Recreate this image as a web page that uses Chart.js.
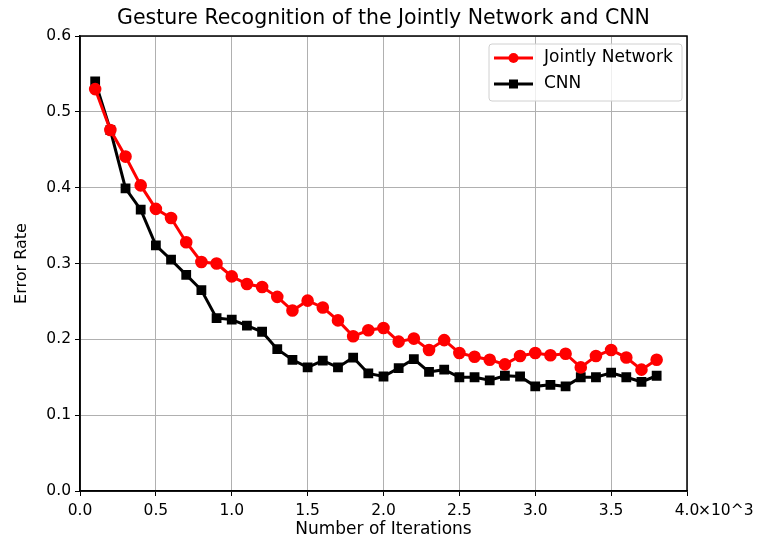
<!DOCTYPE html>
<html>
<head>
<meta charset="utf-8">
<script src="https://cdn.jsdelivr.net/npm/chart.js@4/dist/chart.umd.min.js"></script>
<style>
  html, body { margin: 0; padding: 0; background: #fff; }
  #wrap { width: 760px; height: 541px; }
</style>
</head>
<body>
<div id="wrap"><canvas id="errChart" width="760" height="541"></canvas></div>
<script>
// iterations in units of 10^3
const iterations = [0.1, 0.2, 0.3, 0.4, 0.5, 0.6, 0.7, 0.8, 0.9, 1.0,
  1.1, 1.2, 1.3, 1.4, 1.5, 1.6, 1.7, 1.8, 1.9, 2.0,
  2.1, 2.2, 2.3, 2.4, 2.5, 2.6, 2.7, 2.8, 2.9, 3.0,
  3.1, 3.2, 3.3, 3.4, 3.5, 3.6, 3.7, 3.8];

const jointlyErr = [0.530, 0.476, 0.441, 0.403, 0.372, 0.360, 0.328, 0.302, 0.300, 0.283,
  0.273, 0.269, 0.256, 0.238, 0.251, 0.242, 0.225, 0.204, 0.212, 0.215,
  0.197, 0.201, 0.186, 0.199, 0.182, 0.177, 0.173, 0.167, 0.178, 0.182,
  0.179, 0.181, 0.163, 0.178, 0.186, 0.176, 0.160, 0.173];

const cnnErr = [0.540, 0.476, 0.399, 0.371, 0.324, 0.305, 0.285, 0.265, 0.228, 0.226,
  0.218, 0.210, 0.187, 0.173, 0.163, 0.172, 0.163, 0.176, 0.155, 0.151,
  0.162, 0.174, 0.157, 0.160, 0.150, 0.150, 0.146, 0.152, 0.151, 0.138,
  0.140, 0.138, 0.150, 0.150, 0.156, 0.150, 0.144, 0.152];

const seriesNames = ['Jointly Network', 'CNN'];
const chartTitle = 'Gesture Recognition of the Jointly Network and CNN';

const FONT = "'DejaVu Sans', sans-serif";

// ------------------------- EXTRA DRAWING -------------------------
// matplotlib look: frame on all sides, legend box inside, title, x10^3 offset
const mplDecor = {
  id: 'mplDecor',
  afterDraw(chart) {
    const ctx = chart.ctx;
    const a = chart.chartArea;
    ctx.save();

    // frame
    ctx.strokeStyle = '#000';
    ctx.lineWidth = 1.5;
    ctx.strokeRect(a.left, a.top, a.right - a.left, a.bottom - a.top);

    // title
    ctx.fillStyle = '#000';
    ctx.font = '20.5px ' + FONT;
    ctx.textAlign = 'center';
    ctx.textBaseline = 'middle';
    ctx.fillText(chartTitle, (a.left + a.right) / 2, 19);

    // offset text next to last x tick
    const xs = chart.scales.x;
    ctx.font = '15.5px ' + FONT;
    ctx.textAlign = 'left';
    ctx.fillText('\u00d710^3', xs.getPixelForValue(4) + 11, 511);

    // legend
    const bx = 489, by = 44, bw = 193, bh = 57;
    ctx.fillStyle = 'rgba(255,255,255,0.8)';
    ctx.strokeStyle = '#d0d0d0';
    ctx.lineWidth = 1;
    ctx.beginPath();
    ctx.roundRect(bx, by, bw, bh, 3);
    ctx.fill();
    ctx.stroke();

    chart.data.datasets.forEach((ds, i) => {
      const y = by + 14 + i * 26;
      ctx.strokeStyle = ds.borderColor;
      ctx.lineWidth = 3;
      ctx.beginPath();
      ctx.moveTo(bx + 5, y);
      ctx.lineTo(bx + 44, y);
      ctx.stroke();
      ctx.fillStyle = ds.backgroundColor;
      if (ds.pointStyle === 'rect') {
        ctx.fillRect(bx + 24.5 - 4.5, y - 4.5, 9, 9);
      } else {
        ctx.beginPath();
        ctx.arc(bx + 24.5, y, 5, 0, Math.PI * 2);
        ctx.fill();
      }
      ctx.fillStyle = '#000';
      ctx.font = '17px ' + FONT;
      ctx.textAlign = 'left';
      ctx.textBaseline = 'middle';
      ctx.fillText(ds.label, bx + 55, y);
    });

    ctx.restore();
  }
};

// ------------------------- INIT -------------------------
const gridStyle = { color: '#b0b0b0', lineWidth: 1, tickColor: '#000', tickLength: 5 };
const tickFont = { family: FONT, size: 15.5 };

new Chart(document.getElementById('errChart').getContext('2d'), {
  type: 'line',
  data: {
    datasets: [
      {
        label: seriesNames[0],
        data: iterations.map((x, i) => ({ x, y: jointlyErr[i] })),
        borderColor: '#ff0000',
        backgroundColor: '#ff0000',
        borderWidth: 3,
        pointStyle: 'circle',
        pointRadius: 4.8,
        tension: 0
      },
      {
        label: seriesNames[1],
        data: iterations.map((x, i) => ({ x, y: cnnErr[i] })),
        borderColor: '#000000',
        backgroundColor: '#000000',
        borderWidth: 3,
        pointStyle: 'rect',
        pointRadius: 4.8,
        tension: 0
      }
    ]
  },
  options: {
    responsive: false,
    animation: false,
    devicePixelRatio: 1,
    layout: { padding: { top: 36, right: 73, left: 8, bottom: 0 } },
    plugins: {
      legend: { display: false },
      title: { display: false },
      tooltip: { enabled: false }
    },
    scales: {
      x: {
        type: 'linear',
        min: 0,
        max: 4,
        afterFit: (s) => { s.height = 50; },
        ticks: { stepSize: 0.5, color: '#000', font: tickFont, padding: 6, maxRotation: 0,
                 callback: (v) => v.toFixed(1) },
        grid: gridStyle,
        border: { display: true, color: '#000', width: 1.5 },
        title: { display: true, text: 'Number of Iterations', color: '#000',
                 font: { family: FONT, size: 17 }, padding: { top: 0, bottom: 1 } }
      },
      y: {
        min: 0,
        max: 0.6,
        afterFit: (s) => { s.width = 72; },
        ticks: { stepSize: 0.1, color: '#000', font: tickFont, padding: 4,
                 callback: (v) => v.toFixed(1) },
        grid: gridStyle,
        border: { display: true, color: '#000', width: 1.5 },
        title: { display: true, text: 'Error Rate', color: '#000',
                 font: { family: FONT, size: 16 }, padding: { top: 4, bottom: 0 } }
      }
    }
  },
  plugins: [mplDecor]
});
</script>
</body>
</html>
